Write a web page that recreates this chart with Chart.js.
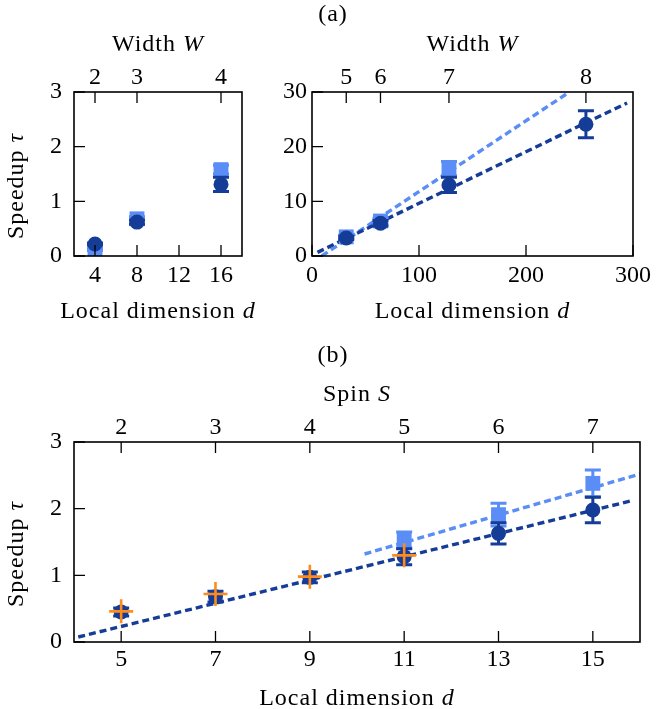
<!DOCTYPE html>
<html><head><meta charset="utf-8">
<script src="https://cdn.jsdelivr.net/npm/chart.js@4.4.1/dist/chart.umd.min.js"></script>
<style>
html,body{margin:0;padding:0;background:#fff;}
body{width:659px;height:709px;position:relative;overflow:hidden;}
canvas{position:absolute;}
</style></head><body>
<canvas id="c1" width="265" height="340" style="left:0;top:0;width:265px;height:340px"></canvas>
<canvas id="c2" width="394" height="340" style="left:265px;top:0;width:394px;height:340px"></canvas>
<canvas id="c3" width="659" height="369" style="left:0;top:340px;width:659px;height:369px"></canvas>
<script>
const FONT_FAMILY = "'Liberation Serif', 'Times New Roman', serif";
const FONT_SIZE = 24;
const DARK = '#153c97';
const LIGHT = '#5b8df6';
const ORANGE = '#ff8c1a';

// ---------- Panel (a) left ----------
const aLD = [4, 8, 16];
const aLDark = [0.22, 0.62, 1.31];
const aLDarkErr = [0.02, 0.04, 0.13];
const aLLight = [0.12, 0.68, 1.58];
const aLLightErr = [0.02, 0.04, 0.08];
const aLXTicks = [4, 8, 12, 16];
const aLYTicks = [0, 1, 2, 3];
const aLTopTicks = [4, 8, 16];
const aLTopLabels = ['2', '3', '4'];

// ---------- Panel (a) right ----------
const aRD = [32, 64, 128, 256];
const aRDark = [3.3, 6.0, 13.0, 24.1];
const aRDarkErr = [0.3, 0.5, 1.4, 2.45];
const aRLightD = [32, 64, 128];
const aRLight = [3.5, 6.4, 16.0];
const aRLightErr = [0.3, 0.5, 1.3];
const aRDarkFitX = [5.1, 294.5];
const aRDarkFitY = [0.66, 28.0];
const aRLightFitX = [9.1, 240.6];
const aRLightFitY = [0, 30];
const aRXTicks = [0, 100, 200, 300];
const aRYTicks = [0, 10, 20, 30];
const aRTopTicks = [32, 64, 128, 256];
const aRTopLabels = ['5', '6', '7', '8'];

// ---------- Panel (b) ----------
const bD = [5, 7, 9, 11, 13, 15];
const bDark = [0.45, 0.68, 0.97, 1.28, 1.63, 1.98];
const bDarkErr = [0.06, 0.08, 0.08, 0.12, 0.16, 0.19];
const bLightD = [11, 13, 15];
const bLight = [1.53, 1.91, 2.38];
const bLightErr = [0.12, 0.17, 0.2];
const bOrangeD = [5, 7, 9, 11];
const bOrange = [0.46, 0.72, 0.98, 1.30];
const bDarkFitX = [4.09, 15.83];
const bDarkFitY = [0.075, 2.12];
const bLightFitX = [10.16, 16];
const bLightFitY = [1.32, 2.52];
const bXTicks = [5, 7, 9, 11, 13, 15];
const bYTicks = [0, 1, 2, 3];
const bTopTicks = [5, 7, 9, 11, 13, 15];
const bTopLabels = ['2', '3', '4', '5', '6', '7'];

Chart.defaults.color = '#000';
Chart.defaults.font.family = FONT_FAMILY;
Chart.defaults.font.size = FONT_SIZE;

const pts = (xs, ys) => xs.map((x, i) => ({x: x, y: ys[i]}));
const fixedTicks = (values) => (scale) => { scale.ticks = values.map(v => ({value: v})); };
const tickFont = {family: FONT_FAMILY, size: FONT_SIZE, lineHeight: 1};

function xAxis(min, max, ticks, height, pad) {
  return {type: 'linear', position: 'bottom', min, max,
    grid: {display: false, drawTicks: false}, border: {display: false},
    ticks: {padding: pad, autoSkip: false, maxRotation: 0, font: tickFont},
    afterBuildTicks: fixedTicks(ticks),
    afterFit: s => { s.height = height; }};
}
function topAxis(min, max, ticks, labels, height, pad) {
  return {type: 'linear', position: 'top', min, max,
    grid: {display: false, drawTicks: false}, border: {display: false},
    ticks: {padding: pad, autoSkip: false, maxRotation: 0, font: tickFont,
      callback: (v, i) => labels[i]},
    afterBuildTicks: fixedTicks(ticks),
    afterFit: s => { s.height = height; }};
}
function yAxis(min, max, ticks, width, pad) {
  return {type: 'linear', position: 'left', min, max,
    grid: {display: false, drawTicks: false}, border: {display: false},
    ticks: {padding: pad, autoSkip: false, font: tickFont},
    afterBuildTicks: fixedTicks(ticks),
    afterFit: s => { s.width = width; }};
}

function markerSet(xs, ys, errs, color, style, radius, order) {
  return {data: pts(xs, ys), errors: errs, errorColor: color, xAxisID: 'x', yAxisID: 'y',
    pointStyle: style, pointRadius: radius, pointBackgroundColor: color,
    pointBorderColor: color, pointBorderWidth: 0, showLine: false, order: order};
}
function crossSet(xs, ys, color, order) {
  return {data: pts(xs, ys), xAxisID: 'x', yAxisID: 'y',
    pointStyle: 'cross', pointRadius: 12, pointBackgroundColor: color,
    pointBorderColor: color, pointBorderWidth: 2.6, showLine: false, order: order};
}
function fitSet(xs, ys, color, order) {
  return {data: pts(xs, ys), xAxisID: 'x', yAxisID: 'y', showLine: true,
    borderColor: color, borderWidth: 3.4, borderDash: [7, 4], borderCapStyle: 'butt',
    pointRadius: 0, fill: false, order: order};
}

function drawRich(ctx, parts, x, y) {
  ctx.textBaseline = 'alphabetic';
  ctx.textAlign = 'left';
  try { ctx.letterSpacing = '1px'; } catch (e) {}
  const fonts = parts.map(p => (p[1] ? 'italic ' : '') + FONT_SIZE + 'px ' + FONT_FAMILY);
  const widths = parts.map((p, i) => { ctx.font = fonts[i]; return ctx.measureText(p[0]).width; });
  const total = widths.reduce((a, b) => a + b, 0);
  let cx = x - total / 2;
  parts.forEach((p, i) => { ctx.font = fonts[i]; ctx.fillText(p[0], cx, y); cx += widths[i]; });
}

const decor = {
  id: 'decor',
  afterDatasetDraw(chart, args) {
    const ds = chart.data.datasets[args.index];
    if (!ds.errors) return;
    const ctx = chart.ctx, ys = chart.scales.y;
    ctx.save();
    ctx.strokeStyle = ds.errorColor;
    ctx.lineWidth = 3;
    ctx.lineCap = 'butt';
    args.meta.data.forEach((pt, i) => {
      const e = ds.errors[i], v = ds.data[i].y;
      const y1 = ys.getPixelForValue(v - e), y2 = ys.getPixelForValue(v + e);
      ctx.beginPath();
      ctx.moveTo(pt.x, y1); ctx.lineTo(pt.x, y2);
      ctx.moveTo(pt.x - 8, y1); ctx.lineTo(pt.x + 8, y1);
      ctx.moveTo(pt.x - 8, y2); ctx.lineTo(pt.x + 8, y2);
      ctx.stroke();
    });
    ctx.restore();
  },
  afterDraw(chart, args, o) {
    const ctx = chart.ctx, a = chart.chartArea;
    const sx = chart.scales.x, st = chart.scales.x2, sy = chart.scales.y;
    const L = 11;
    ctx.save();
    ctx.strokeStyle = '#000';
    ctx.lineWidth = 1.3;
    ctx.beginPath();
    sx.ticks.forEach(t => { const p = sx.getPixelForValue(t.value); ctx.moveTo(p, a.bottom); ctx.lineTo(p, a.bottom - L); });
    st.ticks.forEach(t => { const p = st.getPixelForValue(t.value); ctx.moveTo(p, a.top); ctx.lineTo(p, a.top + L); });
    sy.ticks.forEach(t => { const p = sy.getPixelForValue(t.value); ctx.moveTo(a.left, p); ctx.lineTo(a.left + L, p); });
    ctx.stroke();
    ctx.lineWidth = 1.6;
    ctx.strokeRect(a.left, a.top, a.right - a.left, a.bottom - a.top);
    ctx.fillStyle = '#000';
    const cx = (a.left + a.right) / 2;
    if (o.xTitle) drawRich(ctx, o.xTitle, cx, a.bottom + o.xTitleGap);
    if (o.topTitle) drawRich(ctx, o.topTitle, cx, a.top - o.topTitleGap);
    if (o.panel) drawRich(ctx, [[o.panel, false]], o.panelX, o.panelY);
    if (o.yTitle) {
      ctx.save();
      ctx.translate(o.yTitleX, (a.top + a.bottom) / 2 + o.yTitleDy);
      ctx.rotate(-Math.PI / 2);
      drawRich(ctx, o.yTitle, 0, 0);
      ctx.restore();
    }
    ctx.restore();
  }
};

const X_TITLE = [['Local dimension ', false], ['d', true]];
const W_TITLE = [['Width ', false], ['W', true]];
const S_TITLE = [['Spin ', false], ['S', true]];
const Y_TITLE = [['Speedup ', false], ['τ', true]];

function baseOptions(scales, pad, decorOpts) {
  return {responsive: false, animation: false, events: [],
    layout: {padding: pad},
    plugins: {legend: {display: false}, tooltip: {enabled: false}, title: {display: false}, decor: decorOpts},
    scales: scales};
}

new Chart(document.getElementById('c1'), {
  type: 'scatter',
  data: {datasets: [
    markerSet(aLD, aLDark, aLDarkErr, DARK, 'circle', 7.5, 1),
    markerSet(aLD, aLLight, aLLightErr, LIGHT, 'rect', 10.5, 2)
  ]},
  options: baseOptions({
    x: xAxis(2, 18, aLXTicks, 84, 8),
    x2: topAxis(2, 18, aLTopTicks, aLTopLabels, 92, 2),
    y: yAxis(0, 3, aLYTicks, 74, 12)
  }, {left: 0, right: 23, top: 0, bottom: 0},
  {xTitle: X_TITLE, xTitleGap: 62, topTitle: W_TITLE, topTitleGap: 40.7,
   yTitle: Y_TITLE, yTitleX: 23, yTitleDy: 12}),
  plugins: [decor]
});

new Chart(document.getElementById('c2'), {
  type: 'scatter',
  data: {datasets: [
    markerSet(aRD, aRDark, aRDarkErr, DARK, 'circle', 7.5, 1),
    markerSet(aRLightD, aRLight, aRLightErr, LIGHT, 'rect', 10.5, 2),
    fitSet(aRDarkFitX, aRDarkFitY, DARK, 3),
    fitSet(aRLightFitX, aRLightFitY, LIGHT, 4)
  ]},
  options: baseOptions({
    x: xAxis(0, 300, aRXTicks, 84, 8),
    x2: topAxis(0, 300, aRTopTicks, aRTopLabels, 92, 2),
    y: yAxis(0, 30, aRYTicks, 47, 5)
  }, {left: 0, right: 19, top: 0, bottom: 0},
  {xTitle: X_TITLE, xTitleGap: 62, topTitle: W_TITLE, topTitleGap: 40.7,
   panel: '(a)', panelX: 68, panelY: 21}),
  plugins: [decor]
});

new Chart(document.getElementById('c3'), {
  type: 'scatter',
  data: {datasets: [
    crossSet(bOrangeD, bOrange, ORANGE, 0),
    markerSet(bD, bDark, bDarkErr, DARK, 'circle', 7.5, 1),
    markerSet(bLightD, bLight, bLightErr, LIGHT, 'rect', 10.5, 2),
    fitSet(bDarkFitX, bDarkFitY, DARK, 3),
    fitSet(bLightFitX, bLightFitY, LIGHT, 4)
  ]},
  options: baseOptions({
    x: xAxis(4, 16, bXTicks, 67, 6),
    x2: topAxis(4, 16, bTopTicks, bTopLabels, 102, 2),
    y: yAxis(0, 3, bYTicks, 74, 12)
  }, {left: 0, right: 19, top: 0, bottom: 0},
  {xTitle: X_TITLE, xTitleGap: 63.3, topTitle: S_TITLE, topTitleGap: 40.8,
   yTitle: Y_TITLE, yTitleX: 23, yTitleDy: 12,
   panel: '(b)', panelX: 333, panelY: 22}),
  plugins: [decor]
});
</script></body></html>
